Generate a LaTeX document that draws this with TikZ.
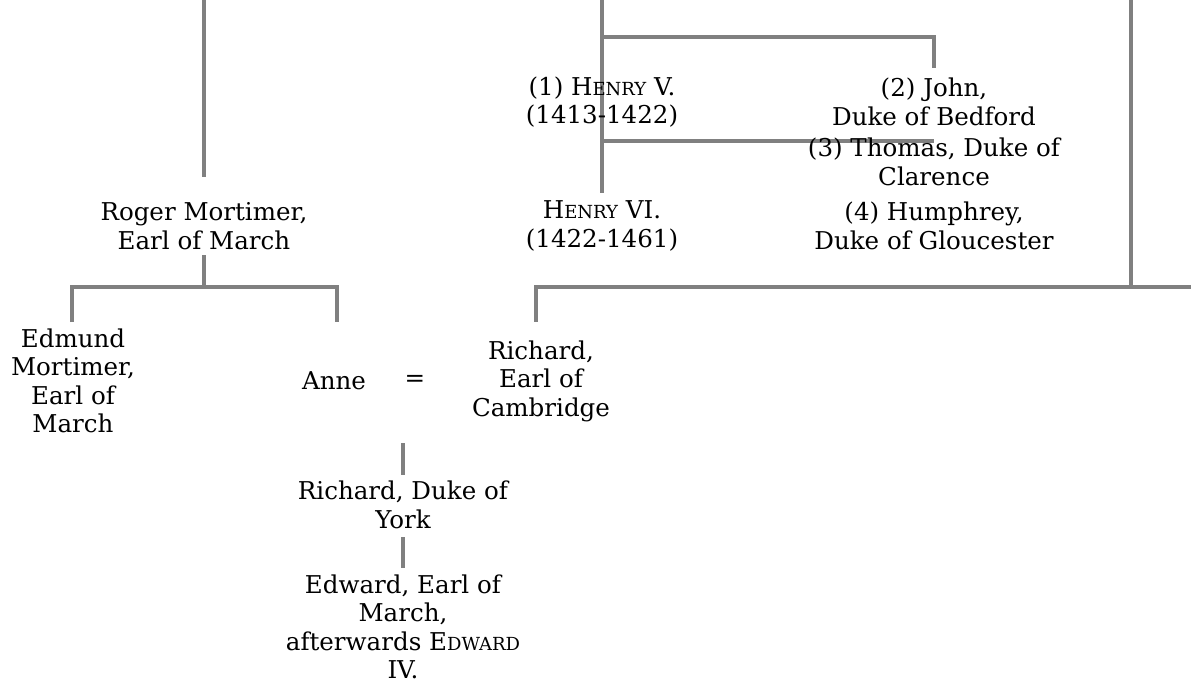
\documentclass[tikz,border=0pt]{standalone}
\usepackage{fontspec}
\setmainfont{DejaVu Serif}
\definecolor{linegray}{HTML}{808080}
% caps-and-small-caps for the royal names
\newcommand{\kingsc}[2]{#1{\fontsize{13.5}{13.5}\selectfont #2}}

\begin{document}
\begin{tikzpicture}[x=0.75pt,y=-0.75pt,
		line/.style={draw=linegray, line width=3pt},
		person/.style={align=center, inner sep=0pt, font=\fontsize{18.4}{21.4}\selectfont}]
	\useasboundingbox (0,0) rectangle (1191,685);

	% lines of descent
	\coordinate (rogertop) at (204,0);
	\coordinate (rogerend) at (204,177);
	\coordinate (rogerfoot) at (204,255);
	\coordinate (mortbar) at (204,287);
	\coordinate (edmundbar) at (72,287);
	\coordinate (edmundtop) at (72,322);
	\coordinate (annebar) at (337,287);
	\coordinate (annetop) at (337,322);
	\coordinate (henrytop) at (602,0);
	\coordinate (henryend) at (602,193);
	\coordinate (johnbar) at (602,37);
	\coordinate (johnturn) at (934,37);
	\coordinate (johntop) at (934,68);
	\coordinate (thomasbar) at (602,141);
	\coordinate (thomasend) at (934,141);
	\coordinate (cambtop) at (1131,0);
	\coordinate (cambbar) at (1131,287);
	\coordinate (cambright) at (1191,287);
	\coordinate (cambturn) at (536,287);
	\coordinate (cambend) at (536,322);
	\coordinate (marriage) at (403,443);
	\coordinate (yorktop) at (403,475);
	\coordinate (yorkfoot) at (403,537);
	\coordinate (edwardtop) at (403,568);

	\draw[line] (rogertop) -- (rogerend);
	\draw[line] (rogerfoot) -- (mortbar);
	\draw[line] (edmundtop) -- (edmundbar) -- (annebar) -- (annetop);
	\draw[line] (henrytop) -- (henryend);
	\draw[line] (johnbar) -- (johnturn) -- (johntop);
	\draw[line] (thomasbar) -- (thomasend);
	\draw[line] (cambtop) -- (cambbar);
	\draw[line] (cambright) -- (cambturn) -- (cambend);
	\draw[line] (marriage) -- (yorktop);
	\draw[line] (yorkfoot) -- (edwardtop);

	% the people
	\node[person] (roger) at (204,226) {Roger Mortimer,\\Earl of March};
	\node[person] (edmund) at (73,381) {Edmund\\Mortimer,\\Earl of\\March};
	\node[person] (anne) at (334,381) {Anne};
	\node[person] (wed) at (415,381) {=};
	\node[person] (cambridge) at (541,381) {Richard,\\Earl of\\Cambridge};
	\node[person] (henryv) at (602,102) {(1) \kingsc{H}{ENRY} V.\\(1413-1422)};
	\node[person] (john) at (934,102) {(2) John,\\Duke of Bedford};
	\node[person] (thomas) at (934,162) {(3) Thomas, Duke of\\Clarence};
	\node[person] (humphrey) at (934,226) {(4) Humphrey,\\Duke of Gloucester};
	\node[person] (henryvi) at (602,226) {\kingsc{H}{ENRY} VI.\\(1422-1461)};
	\node[person] (york) at (403,505) {Richard, Duke of\\York};
	\node[person] (edward) at (403,627) {Edward, Earl of\\March,\\afterwards \kingsc{E}{DWARD}\\IV.};
\end{tikzpicture}
\end{document}
